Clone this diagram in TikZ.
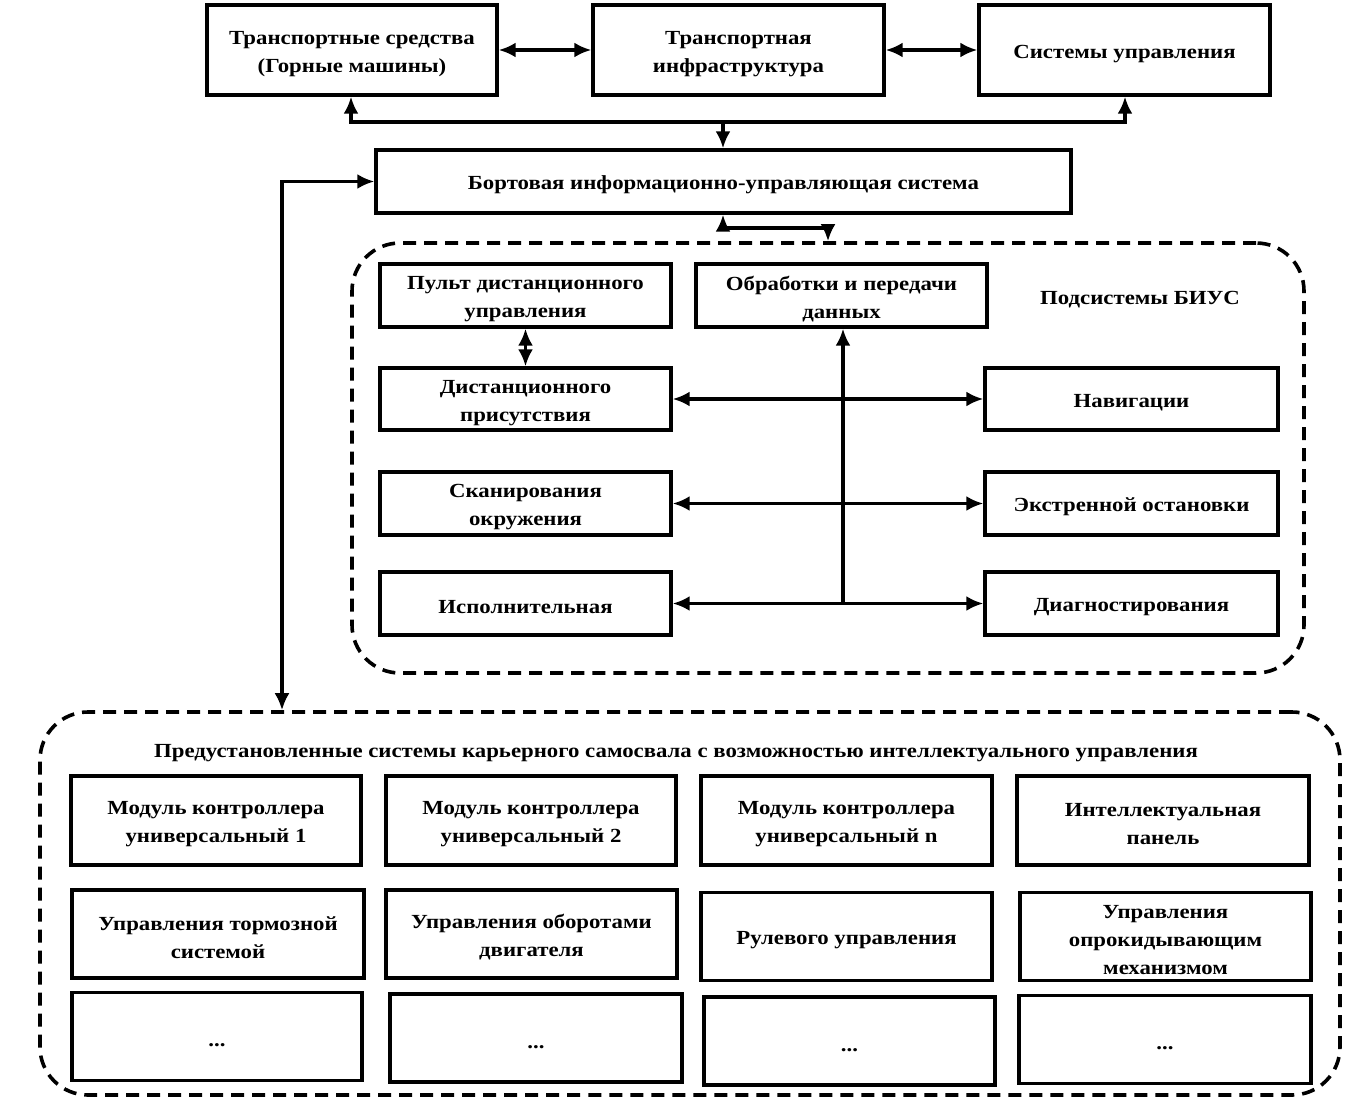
\documentclass[tikz,border=0pt]{standalone}
\usepackage{fontspec}
\setmainfont{Liberation Serif}[FakeStretch=1.14]
\usetikzlibrary{arrows.meta}
\newcommand{\tstrut}{\rule{0pt}{21pt}}
\begin{document}
\begin{tikzpicture}[x=1pt,y=-1pt,
  box/.style={draw,line width=3.4pt,align=center,inner sep=0pt,font=\fontsize{20}{28}\selectfont\bfseries},
  grp/.style={draw,line width=3.6pt,dash pattern=on 13pt off 8pt,rounded corners=48pt,inner sep=0pt},
  lbl/.style={inner sep=0pt,font=\fontsize{20}{28}\selectfont\bfseries},
  arr/.style={line width=3.2pt,-{Latex[length=17pt,width=15pt]}},
  darr/.style={line width=3.2pt,{Latex[length=17pt,width=15pt]}-{Latex[length=17pt,width=15pt]}}]
\useasboundingbox (0,0) rectangle (1365,1110);
% containers
\node[grp,minimum width=952pt,minimum height=430pt] (sub) at (828,458) {};
\node[grp,minimum width=1300pt,minimum height=383pt] (low) at (690,903.5) {};
% top row
\node[box,minimum width=290pt,minimum height=90pt] (t1) at (352,50) {\tstrut Транспортные средства\\(Горные машины)};
\node[box,minimum width=291pt,minimum height=90pt] (t2) at (738.5,50) {\tstrut Транспортная\\инфраструктура};
\node[box,minimum width=291pt,minimum height=90pt] (t3) at (1124.5,50) {\tstrut Системы управления};
\node[box,minimum width=695pt,minimum height=63pt] (bius) at (723.5,181.5) {\tstrut Бортовая информационно-управляющая система};
% subsystems
\node[box,minimum width=291pt,minimum height=63pt] (pult) at (525.5,295.5) {\tstrut Пульт дистанционного\\управления};
\node[box,minimum width=291pt,minimum height=63pt] (obr) at (841.5,295.5) {\tstrut Обработки и передачи\\данных};
\node[lbl] (subl) at (1140,296) {\tstrut Подсистемы БИУС};
\node[box,minimum width=291pt,minimum height=62pt] (dist) at (525.5,399) {\tstrut Дистанционного\\присутствия};
\node[box,minimum width=293pt,minimum height=62pt] (nav) at (1131.5,399) {\tstrut Навигации};
\node[box,minimum width=291pt,minimum height=63pt] (scan) at (525.5,503.5) {\tstrut Сканирования\\окружения};
\node[box,minimum width=293pt,minimum height=63pt] (ext) at (1131.5,503.5) {\tstrut Экстренной остановки};
\node[box,minimum width=291pt,minimum height=63pt] (isp) at (525.5,603.5) {\tstrut Исполнительная};
\node[box,minimum width=293pt,minimum height=63pt] (diag) at (1131.5,603.5) {\tstrut Диагностирования};
% lower group
\node[lbl] (lowl) at (676,749) {\tstrut Предустановленные системы карьерного самосвала с возможностью интеллектуального управления};
\node[box,minimum width=290pt,minimum height=89pt] (m1) at (216,820.5) {\tstrut Модуль контроллера\\универсальный 1};
\node[box,minimum width=290pt,minimum height=89pt] (m2) at (531,820.5) {\tstrut Модуль контроллера\\универсальный 2};
\node[box,minimum width=291pt,minimum height=89pt] (m3) at (846.5,820.5) {\tstrut Модуль контроллера\\универсальный n};
\node[box,minimum width=292pt,minimum height=89pt] (m4) at (1163,820.5) {\tstrut Интеллектуальная\\панель};
\node[box,minimum width=292pt,minimum height=88pt] (u1) at (218,934) {\tstrut Управления тормозной\\системой};
\node[box,minimum width=291pt,minimum height=88pt] (u2) at (531.5,934) {\tstrut Управления оборотами\\двигателя};
\node[box,minimum width=291pt,minimum height=88pt] (u3) at (846.5,936.5) {\tstrut Рулевого управления};
\node[box,minimum width=291pt,minimum height=88pt] (u4) at (1165.5,936.5) {\tstrut Управления\\опрокидывающим\\механизмом};
\node[box,minimum width=290pt,minimum height=88pt] (d1) at (217,1036.5) {\tstrut ...};
\node[box,minimum width=292pt,minimum height=88pt] (d2) at (536,1038) {\tstrut ...};
\node[box,minimum width=291pt,minimum height=88pt] (d3) at (849.5,1041) {\tstrut ...};
\node[box,minimum width=292pt,minimum height=88pt] (d4) at (1165,1039.5) {\tstrut ...};
% connectors
\draw[darr] (t1.east) -- (t2.west);
\draw[darr] (t2.east) -- (t3.west);
\coordinate (bm) at (723,122);
\coordinate (b1) at (351,122);
\coordinate (b3) at (1125,122);
\draw[darr] (t1.south -| b1) -- (b1) -- (b3) -- (t3.south -| b3);
\draw[arr] (bm) -- (bius.north -| bm);
\coordinate (lc) at (282,181.5);
\draw[darr] (lc |- low.north) -- (lc) -- (bius.west);
\coordinate (k1) at (723,228);
\coordinate (k2) at (828,228);
\draw[darr] (bius.south -| k1) -- (k1) -- (k2) -- (k2 |- sub.north);
\draw[darr] (pult.south) -- (dist.north);
\coordinate (tr) at (843,603.5);
\draw[arr] (tr) -- (tr |- obr.south);
\draw[darr] (dist.east) -- (nav.west);
\draw[darr] (scan.east) -- (ext.west);
\draw[darr] (isp.east) -- (diag.west);
\end{tikzpicture}
\end{document}
